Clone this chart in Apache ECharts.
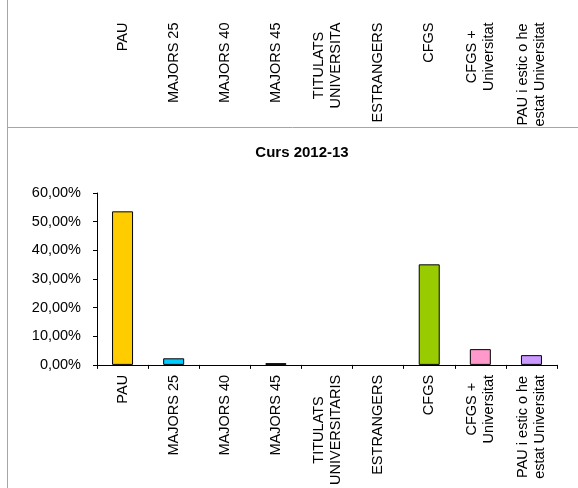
<!DOCTYPE html>
<html>
<head>
<meta charset="utf-8">
<script src="https://cdn.jsdelivr.net/npm/echarts@6/dist/echarts.min.js"></script>
<style>
html,body{margin:0;padding:0;background:#fff;}
#chart{width:578px;height:488px;}
</style>
</head>
<body>
<div id="chart"></div>
<script>
var titleText = 'Curs 2012-13';
var categories = ['PAU', 'MAJORS 25', 'MAJORS 40', 'MAJORS 45', 'TITULATS\nUNIVERSITARIS', 'ESTRANGERS', 'CFGS', 'CFGS +\nUniversitat', 'PAU i estic o he\nestat Universitat'];
var topCategories = ['PAU', 'MAJORS 25', 'MAJORS 40', 'MAJORS 45', 'TITULATS\nUNIVERSITA', 'ESTRANGERS', 'CFGS', 'CFGS +\nUniversitat', 'PAU i estic o he\nestat Universitat'];
var values = [53.6, 2.3, 0, 0.6, 0, 0, 35.1, 5.5, 3.4];
var barColors = ['#FFCC00', '#00CCFF', '#FFFF99', '#111111', '#CCFFCC', '#FF6600', '#99CC00', '#FF99CC', '#CC99FF'];
var yTicks = [0, 10, 20, 30, 40, 50, 60];

var FONT = '"Liberation Sans", Arial, sans-serif';
var FS = 14.5;

function richLabel(v) {
  return v.split('\n').map(function (s) { return '{c|' + s + '}'; }).join('\n');
}
var labelStyle = {
  rotate: 90,
  interval: 0,
  color: '#000',
  fontFamily: FONT,
  fontSize: FS,
  lineHeight: 17,
  margin: 10,
  formatter: richLabel,
  rich: { c: { align: 'center', fontFamily: FONT, fontSize: FS, lineHeight: 17, color: '#000' } }
};

var chart = echarts.init(document.getElementById('chart'), null, { renderer: 'canvas' });
chart.setOption({
  animation: false,
  backgroundColor: '#fff',
  graphic: [
    { type: 'line', shape: { x1: 7.5, y1: 0, x2: 7.5, y2: 488 }, style: { stroke: '#a6a6a6', lineWidth: 1 }, z: 0 },
    { type: 'line', shape: { x1: 7, y1: 127.5, x2: 578, y2: 127.5 }, style: { stroke: '#a6a6a6', lineWidth: 1 }, z: 0 },
    { type: 'text', x: 302, y: 153, style: { text: titleText, fontFamily: FONT, fontSize: 15, fontWeight: 'bold', fill: '#000', textAlign: 'center', textVerticalAlign: 'middle' } }
  ],
  grid: [
    { left: 97, right: 21, top: 193, bottom: 123, containLabel: false },
    { left: 97, right: 21, top: -50, height: 50, containLabel: false }
  ],
  xAxis: [
    {
      type: 'category', gridIndex: 0, data: categories,
      axisLine: { lineStyle: { color: '#000', width: 1 } },
      axisTick: { show: true, length: 4, lineStyle: { color: '#000' } },
      axisLabel: labelStyle,
      splitLine: { show: false }
    },
    {
      type: 'category', gridIndex: 1, data: topCategories,
      axisLine: { show: false },
      axisTick: { show: false },
      axisLabel: labelStyle,
      splitLine: { show: false }
    }
  ],
  yAxis: [
    {
      type: 'value', gridIndex: 0, min: 0, max: 60, interval: 10,
      axisLine: { show: true, lineStyle: { color: '#000', width: 1 } },
      axisTick: { show: true, length: 4, lineStyle: { color: '#000' } },
      splitLine: { show: false },
      axisLabel: {
        color: '#000', fontFamily: FONT, fontSize: FS, margin: 16,
        formatter: function (v) { return v.toFixed(2).replace('.', ',') + '%'; }
      }
    },
    { type: 'value', gridIndex: 1, show: false, min: 0, max: 1 }
  ],
  series: [
    {
      type: 'bar', xAxisIndex: 0, yAxisIndex: 0,
      barWidth: 21,
      data: values.map(function (v, i) {
        return { value: v, itemStyle: { color: barColors[i], borderWidth: v > 0 ? 1 : 0 } };
      }),
      itemStyle: { borderColor: '#000' }
    },
    { type: 'bar', xAxisIndex: 1, yAxisIndex: 1, data: [] }
  ]
});
</script>
</body>
</html>
